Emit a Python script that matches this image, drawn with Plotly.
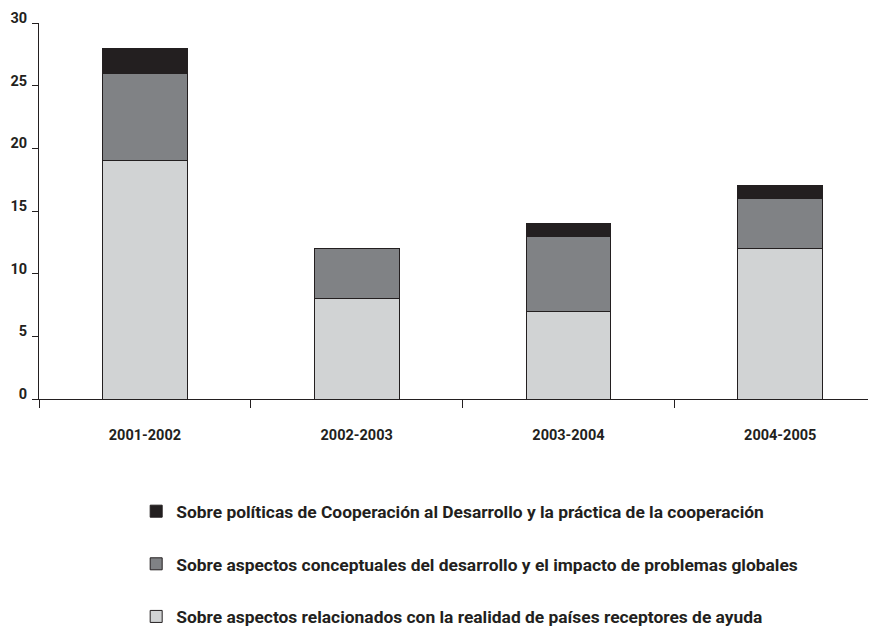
import plotly.graph_objects as go

# data
periodos = ['2001-2002', '2002-2003', '2003-2004', '2004-2005']
realidad = [19, 8, 7, 12]
conceptuales = [7, 4, 6, 4]
politicas = [2, 0, 1, 1]

nombres = [
    'Sobre aspectos relacionados con la realidad de países receptores de ayuda',
    'Sobre aspectos conceptuales del desarrollo y el impacto de problemas globales',
    'Sobre políticas de Cooperación al Desarrollo y la práctica de la cooperación',
]
colores = ['#d1d3d4', '#808285', '#231f20']
rangos = [3, 2, 1]

fig = go.Figure()
for serie, nombre, color, rango in zip([realidad, conceptuales, politicas], nombres, colores, rangos):
    fig.add_trace(go.Bar(x=periodos, y=serie, name=nombre, legendgroup=nombre,
                         legendrank=rango,
                         marker=dict(color=color, line=dict(color='#231f20', width=1)),
                         width=0.4))

# the page body adds 8px of margin, so the margins are trimmed to match
fig.update_layout(
    width=876, height=627,
    barmode='stack',
    plot_bgcolor='white', paper_bgcolor='white',
    margin=dict(l=31, r=0, t=15, b=234),
    font=dict(family='Roboto', size=14.5, color='#231f20', weight='bold'),
    legend=dict(x=0.115, y=-0.251, xanchor='left', yanchor='top',
                traceorder='grouped', tracegroupgap=27,
                font=dict(size=17.4, family='Roboto', weight='bold', color='#231f20')),
)
fig.update_xaxes(range=[-0.5, 3.49], showline=True, linecolor='#231f20', linewidth=1,
                 ticks='outside', tickson='boundaries', ticklen=8, tickcolor='#231f20',
                 ticklabelstandoff=23, automargin=False,
                 showgrid=False, zeroline=False)
fig.update_yaxes(range=[0, 30], dtick=5, showline=True, linecolor='#231f20', linewidth=1,
                 ticks='outside', ticklen=6, tickcolor='#231f20', showgrid=False,
                 ticklabelstandoff=2, ticklabelshift=-5,
                 automargin=False, zeroline=False)

fig.write_html('out.html')
